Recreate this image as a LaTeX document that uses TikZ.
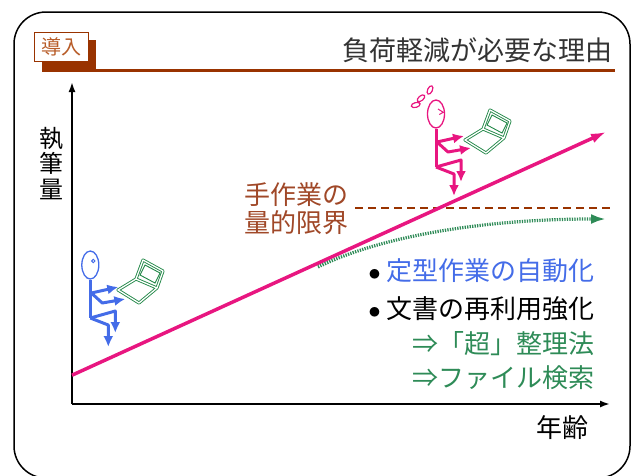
\documentclass[tikz,border=0pt]{standalone}
\usepackage{fontspec}
\setmainfont{Noto Sans CJK JP}
\usetikzlibrary{arrows.meta,positioning,shadows}

\definecolor{barbrown}{RGB}{153,51,0}
\definecolor{tagbrown}{RGB}{184,92,40}
\definecolor{limitbrown}{RGB}{160,72,40}
\definecolor{growpink}{RGB}{232,22,128}
\definecolor{manblue}{RGB}{68,108,232}
\definecolor{pcgreen}{RGB}{34,136,72}
\definecolor{tipgreen}{RGB}{46,139,87}
\definecolor{titlegray}{RGB}{51,51,51}

\tikzset{
  % little man at a keyboard, origin = middle of the head
  pics/stick man/.style={code={
    \draw[line width=1.3pt] (0,0) ellipse [x radius=8.5, y radius=14];
    \draw (0,15) -- (0,53);
    \draw[->] (1,28) -- (28,22);
    \draw[->] (1,28) -- (12,38) -- (35,34);
    \draw[->] (0,53) -- (25,46) -- (25,68);
    \draw[->] (0,53) -- (18,60) -- (18,82);
  }},
  % notebook pc, origin = front left corner
  pics/laptop/.style={code={
    \draw[pcgreen,line width=0.9pt,double=white,double distance=1.3pt,line join=round]
      (0,0) -- (18,-11) -- (39,-2) -- (21,13) -- cycle
      (18,-11) -- (25,-30) -- (45,-19) -- (39,-2);
    \draw[pcgreen,line width=0.9pt] (22,-15) -- (27,-25) -- (42,-17) -- (37,-7) -- cycle;
  }}
}

\begin{document}
\begin{tikzpicture}[x=1pt,y=-1pt,>={Latex[length=10pt,width=7pt]},
    every node/.style={inner sep=0pt},
    big/.style={font=\fontsize{26}{28}\selectfont},
    axis/.style={->,line width=1.8pt},
    item/.style={big,anchor=east},
    man/.style={line width=3pt,line join=round,>={Latex[length=11pt,width=10pt]}},
    long arrow/.style={->,>={Latex[length=15pt,width=10pt]}}]
  \useasboundingbox (0,0) rectangle (640,475);
  \clip (0,0) rectangle (640,475);

  % frame and heading
  \draw[line width=1.5pt,rounded corners=32pt] (14,12) rectangle (630,478);
  \fill[barbrown] (42,68.5) rectangle (615,72);
  \node[draw=barbrown,fill=white,text=tagbrown,line width=1pt,
        minimum width=54pt,minimum height=29.5pt,font=\fontsize{20}{22}\selectfont,
        general shadow={fill=barbrown,shadow xshift=7.5pt,shadow yshift=-8pt}]
        (tag) at (61.2,47) {導入};
  \node[anchor=east,text=titlegray,font=\fontsize{27}{29}\selectfont] (title) at (613,50.5) {負荷軽減が必要な理由};

  % axes
  \coordinate (origin) at (72,404);
  \coordinate (ytop) at (72,82);
  \coordinate (xend) at (610,404);
  \draw[axis] (origin) -- (ytop);
  \draw[axis] (origin) -- (xend);
  \node[align=center,font=\fontsize{24}{25.5}\selectfont] (amount) at (51,163.5) {執\\筆\\量};
  \node[big] (age) at (562,428) {年齢};

  % limit of hand work
  \coordinate (limit start) at (355,208.3);
  \coordinate (limit end) at (611,208.3);
  \draw[barbrown,line width=2.2pt,dash pattern=on 8pt off 5pt] (limit start) -- (limit end);
  \node[big,align=left,text=limitbrown] (limit) at (296.5,209) {手作業の\\量的限界};

  % output keeps growing
  \coordinate (grow start) at (72,375.2);
  \coordinate (grow end) at (606,132);
  \draw[long arrow,growpink,line width=3.5pt] (grow start) -- (grow end);

  % what the tools add
  \coordinate (help start) at (318,267);
  \coordinate (help end) at (606,219);
  \draw[long arrow,tipgreen,line width=3.2pt,dash pattern=on 1.3pt off 1.2pt]
    (help start) .. controls (390,232) and (500,219) .. (help end);

  \node[item,text=manblue] (auto) at (595,270.5) {\textcolor{black}{$\bullet$}\hspace{6pt}定型作業の自動化};
  \node[item] (reuse) [below=38.5pt of auto.east,anchor=east] {$\bullet$\hspace{6pt}文書の再利用強化};
  \node[item,text=tipgreen] (filing) [below=35pt of reuse.east,anchor=east] {⇒「超」整理法};
  \node[item,text=tipgreen] (search) [below=34pt of filing.east,anchor=east] {⇒ファイル検索};

  % young writer
  \pic[manblue,man] (young) at (90.3,265) {stick man};
  \draw[manblue,line width=1pt] (93.3,261) circle [radius=1.7];
  \pic (young pc) at (118,290) {laptop};

  % older writer, sweating
  \pic[growpink,man] (old) at (436,114) {stick man};
  \draw[growpink,line width=1pt] (438,109) -- (443.3,112.3) -- (439.3,114.5);
  \draw[growpink,line width=1.2pt]
    (415.7,105) ellipse [x radius=4.5,y radius=2.4,rotate=15]
    (421,98.3) ellipse [x radius=4.5,y radius=2.4,rotate=40]
    (430,90) ellipse [x radius=4.5,y radius=2.4,rotate=65];
  \pic (old pc) at (465,140) {laptop};
\end{tikzpicture}
\end{document}
